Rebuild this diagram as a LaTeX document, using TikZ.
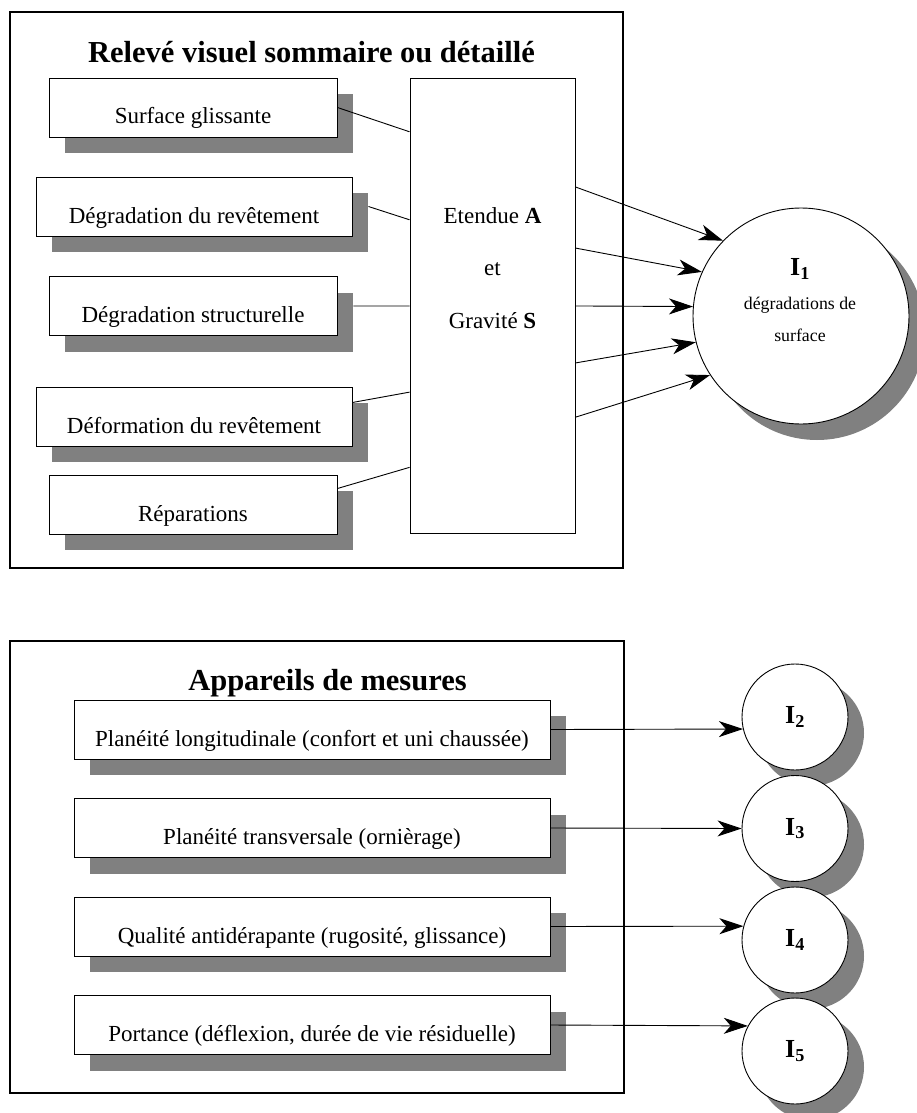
\documentclass[tikz,border=0pt]{standalone}
\usepackage{fontspec}
\setmainfont{Liberation Serif}
\usetikzlibrary{shapes,positioning,calc,shadows,arrows.meta}

\begin{document}
\begin{tikzpicture}
  [x=1pt,y=-1pt,
   cadre/.style={draw,line width=2.5pt},
   ombre/.style={drop shadow={shadow xshift=16pt,shadow yshift=-16pt,fill=black!50,opacity=1}},
   boite/.style={rectangle,draw,fill=white,line width=0.9pt,ombre,
     minimum height=59pt,inner sep=0pt,text height=33pt,text depth=0pt,
     font=\fontsize{23}{27}\selectfont},
   indic/.style={circle,draw,fill=white,line width=0.9pt,ombre,inner sep=0pt},
   titre/.style={anchor=base,font=\fontsize{30.5}{36}\selectfont\bfseries},
   fleche/.style={-{Stealth[length=24pt,width=16pt,inset=7pt]},line width=0.9pt},
   lien/.style={line width=0.9pt}]

  \useasboundingbox (0,0) rectangle (916,1113);

  % releve visuel
  \draw [cadre] (10,12) rectangle (623,568);
  \node at (311.5,63) [titre] (titre1) {Relevé visuel sommaire ou détaillé};

  \node at (193,107.5) [boite,minimum width=288pt] (sg) {Surface glissante};
  \node at (194,206.5) [boite,minimum width=316pt] (dr) {Dégradation du revêtement};
  \node at (193,306)   [boite,minimum width=288pt] (ds) {Dégradation structurelle};
  \node at (194,416.5) [boite,minimum width=316pt] (df) {Déformation du revêtement};
  \node at (193,504.5) [boite,minimum width=288pt] (rp) {Réparations};

  \node at (492.5,305.5) [rectangle,draw,fill=white,line width=0.9pt,
    minimum width=165pt,minimum height=455pt] (ctr) {};
  \node at (492.5,268) [align=center,font=\fontsize{23}{52.5}\selectfont] (ctrtxt)
    {Etendue \textbf{A}\\et\\Gravité \textbf{S}};

  \node at (801,316) [indic,minimum size=216pt] (i1) {};
  \node at (800,300) [align=center,font=\fontsize{17.8}{32}\selectfont] (i1txt)
    {{\fontsize{26}{30}\selectfont\bfseries I\textsubscript{1}}\\[2pt]dégradations de\\surface};

  \draw [lien] (sg.east) -- ($(ctr.north west)!0.119!(ctr.south west)$);
  \draw [lien] ([xshift=16pt]dr.east) -- ($(ctr.north west)!0.312!(ctr.south west)$);
  \draw [lien] ([xshift=16pt]ds.east) -- ($(ctr.north west)!0.501!(ctr.south west)$);
  \draw [lien] ([yshift=14pt]df.east) -- ($(ctr.north west)!0.690!(ctr.south west)$);
  \draw [lien] ([yshift=16pt]rp.east) -- ($(ctr.north west)!0.855!(ctr.south west)$);

  \draw [fleche] ($(ctr.north east)!0.240!(ctr.south east)$) -- (i1.136);
  \draw [fleche] ($(ctr.north east)!0.374!(ctr.south east)$) -- (i1.156);
  \draw [fleche] ($(ctr.north east)!0.501!(ctr.south east)$) -- (i1.175);
  \draw [fleche] ($(ctr.north east)!0.626!(ctr.south east)$) -- (i1.194);
  \draw [fleche] ($(ctr.north east)!0.745!(ctr.south east)$) -- (i1.213);

  % appareils de mesures
  \draw [cadre] (10,641) rectangle (624,1093);
  \node at (327.5,690) [titre] (titre2) {Appareils de mesures};

  \node at (312,729.5) [boite,minimum width=476pt] (b1) {Planéité longitudinale (confort et uni chaussée)};
  \node at (312,828)   [boite,minimum width=476pt] (b2) {Planéité transversale (ornièrage)};
  \node at (312,926.5) [boite,minimum width=476pt] (b3) {Qualité antidérapante (rugosité, glissance)};
  \node at (312,1025)  [boite,minimum width=476pt] (b4) {Portance (déflexion, durée de vie résiduelle)};

  \node at (795,717)   [indic,minimum size=106pt,font=\fontsize{26}{30}\selectfont\bfseries] (i2) {I\textsubscript{2}};
  \node at (795,828.5) [indic,minimum size=106pt,font=\fontsize{26}{30}\selectfont\bfseries] (i3) {I\textsubscript{3}};
  \node at (795,940)   [indic,minimum size=106pt,font=\fontsize{26}{30}\selectfont\bfseries] (i4) {I\textsubscript{4}};
  \node at (795,1051)  [indic,minimum size=106pt,font=\fontsize{26}{30}\selectfont\bfseries] (i5) {I\textsubscript{5}};

  \draw [fleche] (b1.east) -- (i2.193);
  \draw [fleche] (b2.east) -- (i3.180);
  \draw [fleche] (b3.east) -- (i4.165);
  \draw [fleche] (b4.east) -- (i5.152);
\end{tikzpicture}
\end{document}
